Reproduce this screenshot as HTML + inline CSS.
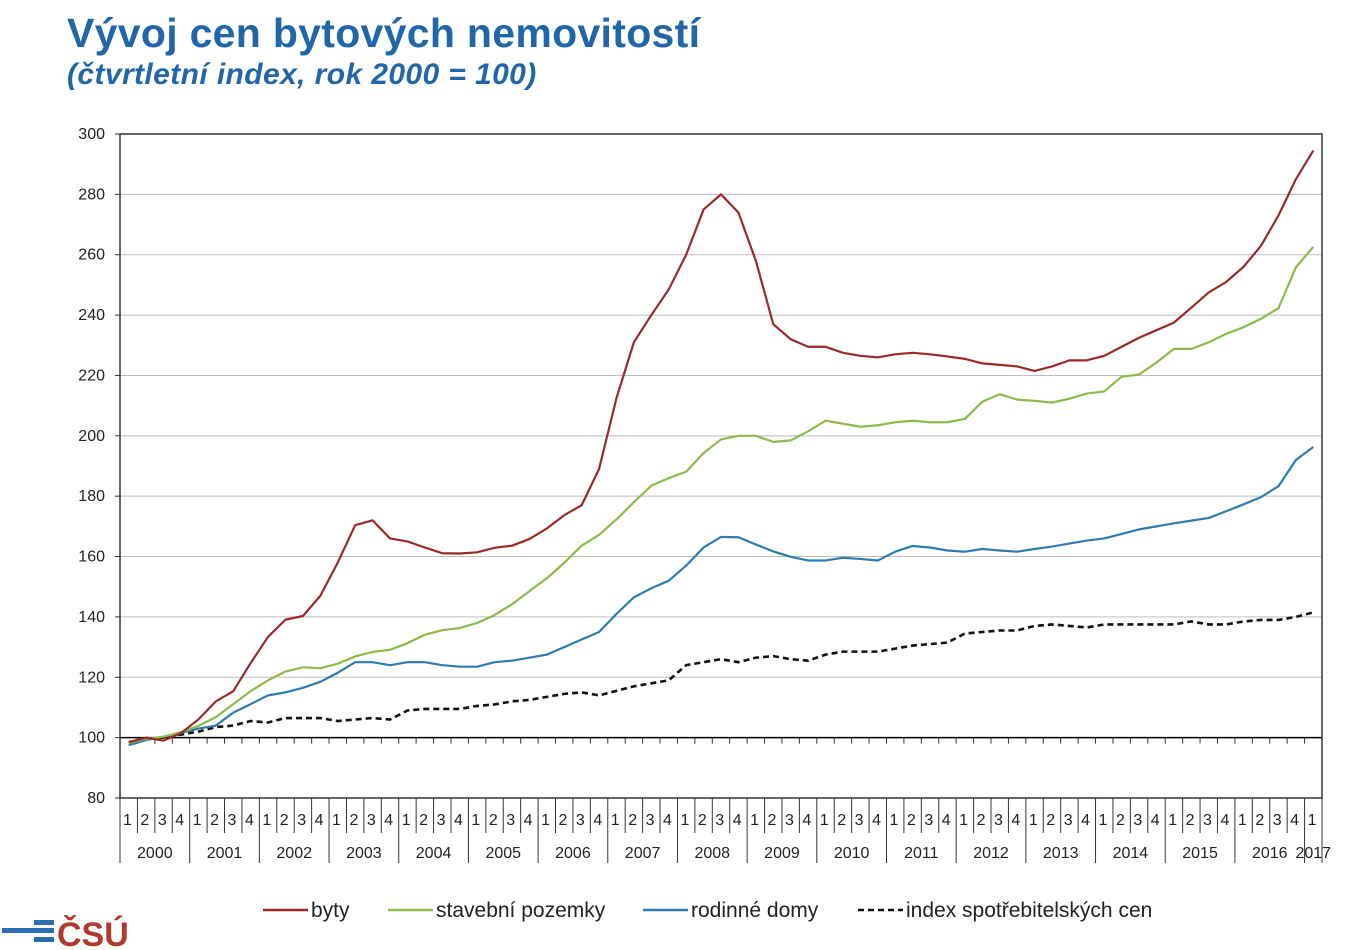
<!DOCTYPE html>
<html><head><meta charset="utf-8">
<style>
body{margin:0;background:#fff;width:1355px;height:950px;overflow:hidden;font-family:"Liberation Sans",sans-serif;}
#t1{position:absolute;left:67px;top:10px;font-size:41px;font-weight:bold;color:#2266aa;letter-spacing:0.3px;}
#t2{position:absolute;left:67px;top:58px;font-size:30px;font-weight:bold;font-style:italic;color:#2266aa;letter-spacing:0.4px;}
svg{position:absolute;left:0;top:0;}
</style></head><body>
<div id="t1">Vývoj cen bytových nemovitostí</div>
<div id="t2">(čtvrtletní index, rok 2000 = 100)</div>
<svg id="c" width="1355" height="950"></svg>
<script>
const years=["2000","2001","2002","2003","2004","2005","2006","2007","2008","2009","2010","2011","2012","2013","2014","2015","2016","2017"];
const yTicks=[80,100,120,140,160,180,200,220,240,260,280,300];
const byty=[98.5,100,99,101.5,106,112,115.4,124.7,133.4,139.1,140.3,147,158,170.4,172,166,165,163,161.1,161,161.4,162.9,163.6,165.8,169.3,173.7,177,189,212.5,231,240,248.5,260,275,280,274,258,237,232,229.5,229.5,227.5,226.5,226,227,227.5,227,226.3,225.5,224,223.5,223,221.5,223,225,225,226.5,229.5,232.5,235,237.5,242.5,247.5,251,256,263,273,285,294.5];
const pozemky=[98.2,99.6,100.3,101.8,103.9,106.8,111.1,115.4,119,121.9,123.3,123,124.5,126.9,128.4,129.1,131.3,134.1,135.6,136.3,138,140.6,144.2,148.5,152.8,157.9,163.6,167.2,172.3,178,183.5,186,188.1,194.3,198.8,200,200,198,198.5,201.5,205,204,203,203.5,204.5,205,204.5,204.5,205.6,211.3,213.8,212,211.6,211,212.3,214,214.7,219.6,220.3,224.3,228.8,228.8,231,233.8,236,238.8,242.3,255.8,262.6];
const domy=[97.5,99.2,100.3,101.5,103,104,108.3,111.1,114,115,116.5,118.5,121.5,125,125,124,125,125,124,123.5,123.5,125,125.5,126.5,127.5,130,132.5,135,141,146.5,149.5,152,157,163,166.5,166.4,164,161.7,159.9,158.7,158.7,159.6,159.2,158.7,161.6,163.5,163,162,161.6,162.5,162,161.6,162.5,163.3,164.3,165.3,166,167.5,169,170,171,171.9,172.8,175,177.3,179.7,183.3,192,196.3];
const cpi=[98.5,99.5,100,101,102,103.5,104,105.5,105,106.5,106.5,106.5,105.5,106,106.5,106,109,109.5,109.5,109.5,110.5,111,112,112.5,113.5,114.5,115,114,115.5,117,118,119,124,125,126,125,126.5,127,126,125.5,127.5,128.5,128.5,128.5,129.5,130.5,131,131.5,134.5,135,135.5,135.5,137,137.5,137,136.5,137.5,137.5,137.5,137.5,137.5,138.5,137.5,137.5,138.5,139,139,140,141.5];
const N=69,L=120,R=1322,T=134,B=798;
const qw=(R-L)/N;
const X=i=>L+(i+0.5)*qw;
const Y=v=>B-(v-80)/220*(B-T);
const svg=document.getElementById('c');
const NS='http://www.w3.org/2000/svg';
function mk(t,a){const e=document.createElementNS(NS,t);for(const k in a)e.setAttribute(k,a[k]);svg.appendChild(e);return e;}
yTicks.forEach(v=>{
 if(v===80||v===300)return;
 const g=mk('line',{x1:L,x2:R,y1:Y(v),y2:Y(v),stroke:v===100?'#000':'#bdbdbd','stroke-width':v===100?1.5:1});
 
 
});
yTicks.forEach(v=>{
 const t=mk('text',{x:105,y:Y(v)+5,'text-anchor':'end','font-size':16,fill:'#222'});
 t.textContent=v;
 
 
 mk('line',{x1:L-5,x2:L,y1:Y(v),y2:Y(v),stroke:'#333'});
});
const fr=mk('rect',{x:L,y:T,width:R-L,height:B-T,fill:'none',stroke:'#333','stroke-width':1.5});


for(let i=0;i<=N;i++){
 const x=L+i*qw;
 mk('line',{x1:x,x2:x,y1:Y(100),y2:Y(100)+6,stroke:'#333'});
 const yr=i%4===0||i===N;
 mk('line',{x1:x,x2:x,y1:B,y2:yr?863:833,stroke:'#333'});
 if(i<N){
  const t=mk('text',{x:x+3,y:825,'font-size':16,fill:'#222'});
  t.textContent=(i%4)+1;
  
  
 }
}
years.forEach((y,j)=>{
 const s=j*4,e=Math.min(N,s+4);
 const t=mk('text',{x:L+(s+e)/2*qw,y:858,'text-anchor':'middle','font-size':16,fill:'#222'});
 t.textContent=y;
 
 
});
function line(d,col,name,dash){
 const p=mk('polyline',{points:d.map((v,i)=>X(i)+','+Y(v)).join(' '),fill:'none',stroke:col,'stroke-width':dash?2.6:2.2,'stroke-dasharray':dash||'none','stroke-linejoin':'round'});
 
 
}
line(cpi,'#111','series-cpi','6,4');
line(domy,'#2f7bb0','series-rodinne-domy');
line(pozemky,'#8dbb4a','series-stavebni-pozemky');
line(byty,'#9a2a2a','series-byty');
const leg=[['byty','#9a2a2a',263,''],['stavební pozemky','#8dbb4a',388,''],['rodinné domy','#2f7bb0',643,''],['index spotřebitelských cen','#111',858,'6,4']];
leg.forEach(l=>{
 const ln=mk('line',{x1:l[2],x2:l[2]+45,y1:910,y2:910,stroke:l[1],'stroke-width':2.5,'stroke-dasharray':l[3]||'none'});
 
 
 const t=mk('text',{x:l[2]+48,y:917,'font-size':21,fill:'#222'});
 t.textContent=l[0];
 
 
});
mk('rect',{x:2,y:928,width:52,height:5,fill:'#2a6db0'});
mk('rect',{x:34,y:920,width:20,height:5,fill:'#2a6db0'});
mk('rect',{x:34,y:937,width:20,height:5,fill:'#2a6db0'});
const lg=mk('text',{x:57,y:946,'font-size':34,'font-weight':'bold',fill:'#b03a2e'});
lg.textContent='ČSÚ';


</script>
</body></html>
